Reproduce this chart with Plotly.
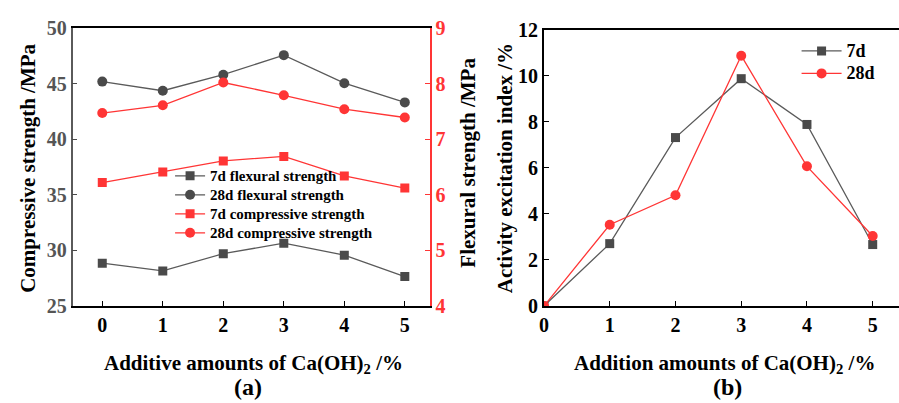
import plotly.graph_objects as go

# Ca(OH)2 dosage (%)
dosage = [0, 1, 2, 3, 4, 5]

# (a) strength series
flex_7d = [28.85, 28.15, 29.7, 30.65, 29.57, 27.64]      # left axis
flex_28d = [45.18, 44.36, 45.8, 47.56, 45.04, 43.31]     # left axis
comp_7d = [6.22, 6.41, 6.61, 6.69, 6.34, 6.12]           # right axis
comp_28d = [7.47, 7.61, 8.02, 7.79, 7.54, 7.39]          # right axis

# (b) activity excitation index (%)
act_7d = [0.0, 2.71, 7.32, 9.88, 7.89, 2.67]
act_28d = [0.0, 3.53, 4.81, 10.88, 6.07, 3.04]

left_ticks = [25, 30, 35, 40, 45, 50]
right_ticks = [4, 5, 6, 7, 8, 9]
act_ticks = [0, 2, 4, 6, 8, 10, 12]

W, H = 899, 403
FONT = "Liberation Serif"
GRAY = "#4a4a4a"
GRAYLINE = "#5a5a5a"
RED = "#ff3535"


def px(x):
    return x / W


def py(y):
    return 1 - y / H


def label(text, size):
    # legend rows are spaced by the legend font; the label itself is drawn larger
    return f"<span style='font-size:{size}px'>{text}</span>"


fig = go.Figure()

# ---- panel (a)
fig.add_trace(go.Scatter(x=dosage, y=flex_7d, name=label("7d flexural strength", 15),
                         mode="lines+markers",
                         line=dict(color=GRAYLINE, width=1.3),
                         marker=dict(symbol="square", size=9, color=GRAY),
                         xaxis="x", yaxis="y", legend="legend"))
fig.add_trace(go.Scatter(x=dosage, y=flex_28d, name=label("28d flexural strength", 15),
                         mode="lines+markers",
                         line=dict(color=GRAYLINE, width=1.3),
                         marker=dict(symbol="circle", size=10, color=GRAY),
                         xaxis="x", yaxis="y", legend="legend"))
fig.add_trace(go.Scatter(x=dosage, y=comp_7d, name=label("7d compressive strength", 15),
                         mode="lines+markers",
                         line=dict(color=RED, width=1.3),
                         marker=dict(symbol="square", size=9, color=RED),
                         xaxis="x", yaxis="y2", legend="legend"))
fig.add_trace(go.Scatter(x=dosage, y=comp_28d, name=label("28d compressive strength", 15),
                         mode="lines+markers",
                         line=dict(color=RED, width=1.3),
                         marker=dict(symbol="circle", size=10, color=RED),
                         xaxis="x", yaxis="y2", legend="legend"))

# ---- panel (b)
fig.add_trace(go.Scatter(x=dosage, y=act_7d, name=label("7d", 18), mode="lines+markers",
                         line=dict(color=GRAYLINE, width=1.3),
                         marker=dict(symbol="square", size=9, color=GRAY),
                         xaxis="x3", yaxis="y3", legend="legend2"))
fig.add_trace(go.Scatter(x=dosage, y=act_28d, name=label("28d", 18), mode="lines+markers",
                         line=dict(color=RED, width=1.3),
                         marker=dict(symbol="circle", size=10, color=RED),
                         xaxis="x3", yaxis="y3", legend="legend2"))

tickfont = dict(family=FONT, size=20, color="black", weight="bold")

fig.update_layout(
    width=W, height=H,
    margin=dict(l=0, r=0, t=0, b=0),
    paper_bgcolor="white", plot_bgcolor="white",
    font=dict(family=FONT, color="black"),
    xaxis=dict(domain=[px(68), px(427)], range=[-0.49, 5.41], tickvals=dosage,
               ticks="inside", ticklen=5, tickwidth=1.2, tickcolor="black",
               showline=True, linecolor="black", linewidth=2, mirror=True,
               showgrid=False, zeroline=False, tickfont=tickfont, anchor="y"),
    yaxis=dict(domain=[py(312), py(18)], range=[25, 50], tickvals=left_ticks,
               ticks="inside", ticklen=5, tickwidth=1.2, tickcolor=GRAY,
               showline=True, linecolor=GRAYLINE, linewidth=1.5,
               showgrid=False, zeroline=False,
               tickfont=dict(family=FONT, size=20, color="#555555", weight="bold"),
               anchor="x"),
    yaxis2=dict(overlaying="y", side="right", range=[4, 9], tickvals=right_ticks,
                ticks="inside", ticklen=5, tickwidth=1.2, tickcolor=RED,
                showline=True, linecolor=RED, linewidth=1.5,
                showgrid=False, zeroline=False,
                tickfont=dict(family=FONT, size=20, color=RED, weight="bold"),
                anchor="x"),
    xaxis3=dict(domain=[px(542), 1.0], range=[0, 5.4], tickvals=dosage,
                ticks="inside", ticklen=5, tickwidth=1.2, tickcolor="black",
                showline=True, linecolor="black", linewidth=2, mirror=True,
                showgrid=False, zeroline=False, tickfont=tickfont, anchor="y3"),
    yaxis3=dict(domain=[py(312), py(20)], range=[0, 12], tickvals=act_ticks,
                ticks="inside", ticklen=5, tickwidth=1.2, tickcolor="black",
                showline=True, linecolor="black", linewidth=2,
                showgrid=False, zeroline=False, tickfont=tickfont, anchor="x3"),
    legend=dict(x=px(166), y=py(159), xanchor="left", yanchor="top",
                bgcolor="rgba(0,0,0,0)", tracegroupgap=0, itemwidth=30,
                font=dict(family=FONT, size=12, color="black", weight="bold")),
    legend2=dict(x=px(796), y=py(25), xanchor="left", yanchor="top",
                 bgcolor="rgba(0,0,0,0)", itemwidth=40,
                 font=dict(family=FONT, size=15, color="black", weight="bold")),
    showlegend=True,
)

title_font = dict(family=FONT, size=21, color="black", weight="bold")


def note(text, x, y, angle=0, size=21):
    fig.add_annotation(text=text, x=px(x), y=py(y), xref="paper", yref="paper",
                       xanchor="center", yanchor="middle", showarrow=False,
                       textangle=angle, font=dict(title_font, size=size))


note("Compressive strength /MPa", 23, 166, angle=-90)
note("Flexural strength /MPa", 466, 160, angle=-90)
note("Activity excitation index /%", 503, 166, angle=-90)
note("Additive amounts of Ca(OH)<sub>2</sub> /%", 250, 373)
note("Addition amounts of Ca(OH)<sub>2</sub> /%", 724, 373)
note("(a)", 244, 398, size=24)
note("(b)", 727, 398, size=24)

fig.write_html("out.html")
